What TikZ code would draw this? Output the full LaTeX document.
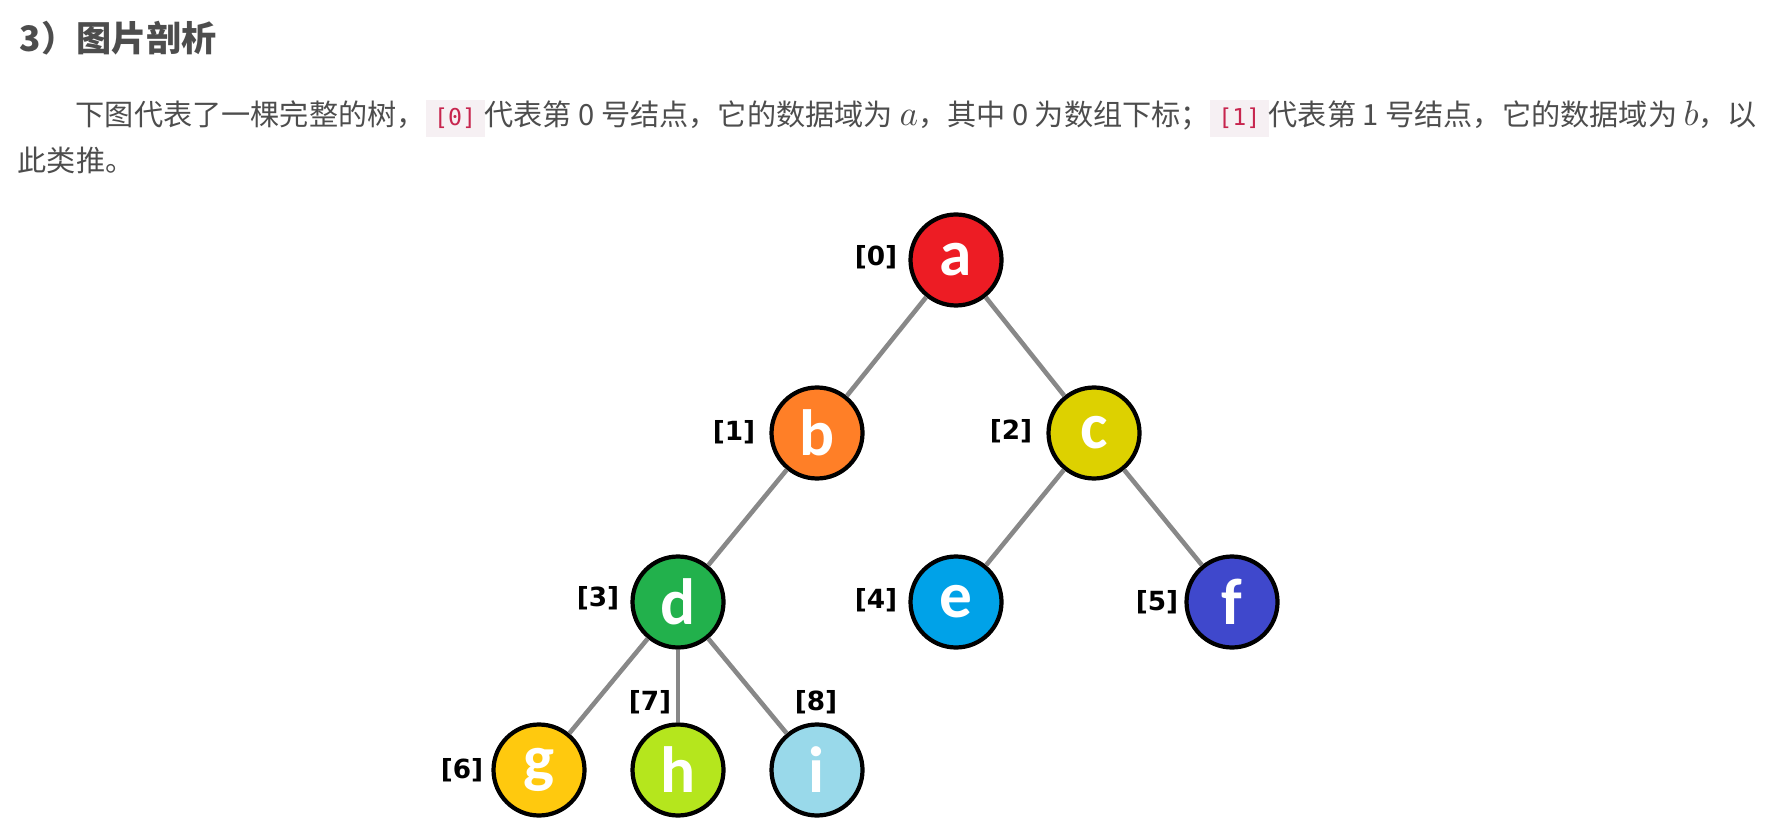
\documentclass[tikz,border=0pt]{standalone}
\usepackage{fontspec}
\usepackage{xcolor}
\usetikzlibrary{positioning}
\newfontfamily\cjk{Noto Sans CJK SC}
\newfontfamily\nodefont{Carlito}
\newfontfamily\idxfont{DejaVu Sans}
\newfontfamily\codefont{DejaVu Sans Mono}
\definecolor{txtgray}{RGB}{77,77,77}
\definecolor{codered}{RGB}{199,37,78}
\definecolor{codebg}{RGB}{246,240,243}
\definecolor{edgegray}{RGB}{136,136,136}
\definecolor{ared}{RGB}{237,28,36}
\definecolor{borange}{RGB}{255,127,39}
\definecolor{cyellow}{RGB}{221,209,0}
\definecolor{dgreen}{RGB}{34,177,76}
\definecolor{eblue}{RGB}{0,162,232}
\definecolor{findigo}{RGB}{63,72,204}
\definecolor{ggold}{RGB}{255,201,14}
\definecolor{hlime}{RGB}{181,230,29}
\definecolor{iturq}{RGB}{153,217,234}
\newcommand{\codebox}[1]{{\setlength{\fboxsep}{2.4pt}\colorbox{codebg}{\codefont\fontsize{6.6pt}{7pt}\selectfont\color{codered}#1}}}
\newcommand{\mvar}[1]{{\fontsize{9.6pt}{10pt}\selectfont$#1$}}

\begin{document}
\begin{tikzpicture}[
  tnode/.style={draw, circle, line width=1.2pt, minimum size=9.1mm, inner sep=0pt,
                text=white, font=\nodefont\bfseries\fontsize{18.6pt}{19pt}\selectfont},
  idx/.style={inner sep=0pt, font=\idxfont\bfseries\fontsize{7.5pt}{8pt}\selectfont},
  edge/.style={draw=edgegray, line width=1.3pt},
  para/.style={inner sep=0pt, anchor=base west, text=txtgray, font=\cjk\fontsize{8.3pt}{10pt}\selectfont},
]
\useasboundingbox (0,0) rectangle (17.68,-8.32);
% heading and text
\node[para, font=\cjk\bfseries\fontsize{10pt}{12pt}\selectfont] (title) at (0.19,-0.52) {3）图片剖析};
\node[para] (line1) at (0.75,-1.26) {下图代表了一棵完整的树，\codebox{[0]}代表第 0 号结点，它的数据域为 \mvar{a}，其中 0 为数组下标；\codebox{[1]}代表第 1 号结点，它的数据域为 \mvar{b}，以};
\node[para] (line2) at (0.17,-1.72) {此类推。};
% tree nodes
\node[tnode, fill=ared] (a) at (9.56,-2.60) {a};
\node[tnode, fill=borange] (b) at (8.17,-4.33) {b};
\node[tnode, fill=cyellow] (c) at (10.94,-4.33) {c};
\node[tnode, fill=dgreen] (d) at (6.78,-6.02) {d};
\node[tnode, fill=eblue] (e) at (9.56,-6.02) {e};
\node[tnode, fill=findigo] (f) at (12.32,-6.02) {f};
\node[tnode, fill=ggold] (g) at (5.39,-7.70) {g};
\node[tnode, fill=hlime] (h) at (6.78,-7.70) {h};
\node[tnode, fill=iturq] (i) at (8.17,-7.70) {i};
% array indices
\node[idx] (i0) at (8.76,-2.57) {[0]};
\node[idx] (i1) at (7.34,-4.32) {[1]};
\node[idx] (i2) at (10.11,-4.31) {[2]};
\node[idx] (i3) at (5.98,-5.98) {[3]};
\node[idx] (i4) at (8.76,-6.00) {[4]};
\node[idx] (i5) at (11.57,-6.02) {[5]};
\node[idx] (i6) at (4.62,-7.70) {[6]};
\node[idx] (i7) at (6.50,-7.02) {[7]};
\node[idx] (i8) at (8.16,-7.02) {[8]};
% edges
\draw[edge] (a) -- (b);
\draw[edge] (a) -- (c);
\draw[edge] (b) -- (d);
\draw[edge] (c) -- (e);
\draw[edge] (c) -- (f);
\draw[edge] (d) -- (g);
\draw[edge] (d) -- (h);
\draw[edge] (d) -- (i);
\end{tikzpicture}
\end{document}
